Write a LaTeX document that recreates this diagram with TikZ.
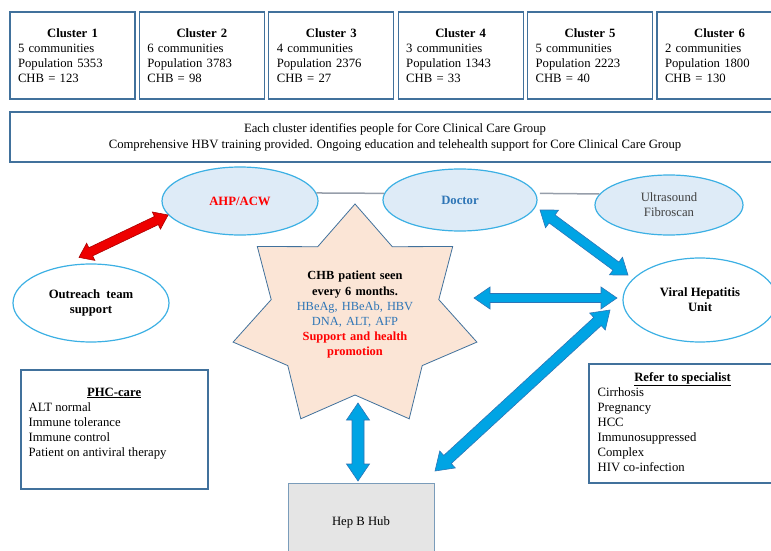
\documentclass[tikz,border=0pt]{standalone}
\usepackage{fontspec}
\setmainfont{Liberation Serif}
\usetikzlibrary{calc,shapes.geometric}
\definecolor{boxblue}{RGB}{65,113,156}
\definecolor{ellline}{RGB}{60,176,228}
\definecolor{ellfill}{RGB}{222,235,247}
\definecolor{txtblue}{RGB}{46,117,182}
\definecolor{arrblue}{RGB}{0,164,228}
\definecolor{arrblueline}{RGB}{46,117,182}
\definecolor{starfill}{RGB}{251,229,214}
\definecolor{hubfill}{RGB}{229,229,229}
\definecolor{linkgray}{RGB}{150,158,170}
\newcommand\dblarrow[6]{%
  \coordinate (da1) at ($(#1)!#3!(#2)$);
  \coordinate (da2) at ($(#2)!#3!(#1)$);
  \draw[#6] (#1) -- ($(da1)!#4!90:(#2)$) -- ($(da1)!#5!90:(#2)$)
    -- ($(da2)!#5!-90:(#1)$) -- ($(da2)!#4!-90:(#1)$) -- (#2)
    -- ($(da2)!#4!90:(#1)$) -- ($(da2)!#5!90:(#1)$)
    -- ($(da1)!#5!-90:(#2)$) -- ($(da1)!#4!-90:(#2)$) -- cycle;}
\newcommand\clusterbox[6]{%
  \node[clusterbox] (#1) at (#2,55.5)
    {\makebox[109pt]{\textbf{Cluster #3}}\\#4 communities\\Population #5\\CHB = #6};}
\begin{document}
\begin{tikzpicture}[x=1pt,y=-1pt,
  every node/.style={font=\fontsize{12.7}{15}\selectfont},
  clusterbox/.style={draw=boxblue, line width=1.3pt, minimum width=125pt,
    minimum height=87pt, text width=109pt, inner xsep=8pt, align=left},
  plainbox/.style={draw=boxblue, line width=1.2pt},
  blueell/.style={ellipse, draw=ellline, line width=1.2pt, fill=ellfill, inner sep=0pt},
  whiteell/.style={ellipse, draw=ellline, line width=1.2pt, fill=white, inner sep=0pt},
  link/.style={draw=linkgray, line width=1.5pt},
  bluearrow/.style={fill=arrblue, draw=arrblueline, line width=0.6pt},
  redarrow/.style={fill={rgb,255:red,238;green,0;blue,0}, draw={rgb,255:red,170;green,0;blue,0}, line width=0.6pt},
  listtext/.style={anchor=north west, inner sep=0pt, align=left}]
\useasboundingbox (0,0) rectangle (771,551);

% clusters
\clusterbox{c1}{72.5}{1}{5}{5353}{123}
\clusterbox{c2}{201.9}{2}{6}{3783}{98}
\clusterbox{c3}{331.3}{3}{4}{2376}{27}
\clusterbox{c4}{460.7}{4}{3}{1343}{33}
\clusterbox{c5}{590.1}{5}{5}{2223}{40}
\clusterbox{c6}{719.5}{6}{2}{1800}{130}

% wide box
\node[plainbox, minimum width=770pt, minimum height=50pt, align=center,
  font=\fontsize{12.7}{16}\selectfont] (core) at (395,137)
  {Each cluster identifies people for Core Clinical Care Group\\
   Comprehensive HBV training provided. Ongoing education and telehealth support for Core Clinical Care Group};

% ellipses
\node[blueell, minimum width=156pt, minimum height=68pt] (ahp) at (240,201)
  {\textcolor{red}{\textbf{AHP/ACW}}};
\node[blueell, minimum width=154pt, minimum height=62pt] (doctor) at (460,200)
  {\textcolor{txtblue}{\textbf{Doctor}}};
\node[blueell, minimum width=148pt, minimum height=60pt, align=center,
  text={rgb,255:red,64;green,64;blue,64}] (us) at (669,205)
  {Ultrasound\\Fibroscan};
\node[whiteell, minimum width=154pt, minimum height=84pt, align=center] (vhu) at (700,300)
  {\textbf{Viral Hepatitis}\\\textbf{Unit}};
\node[whiteell, minimum width=156pt, minimum height=78pt, align=center] (outreach) at (91,303)
  {\textbf{Outreach\ \ team}\\\textbf{support}};

% thin links
\draw[link] (ahp.6) -- (doctor.175);
\draw[link] ($(doctor.5)+(4,0)$) -- (us.171);

% star
\filldraw[fill=starfill, draw=boxblue, line width=0.8pt]
  (355,204) -- (392.3,246.7) -- (452.7,246.5) -- (438.8,299.6) -- (476.9,342.1)
  -- (422.2,365.6) -- (409.2,418.8) -- (355,395) -- (300.8,418.8) -- (287.8,365.6)
  -- (233.1,342.1) -- (271.2,299.6) -- (257.3,246.5) -- (317.7,246.7) -- cycle;
\node[align=center, text width=140pt, font=\fontsize{12.4}{15.2}\selectfont] (star) at (355,315)
  {\textbf{CHB patient seen}\\\textbf{every 6 months.}\\
   \textcolor{txtblue}{HBeAg, HBeAb, HBV}\\\textcolor{txtblue}{DNA, ALT, AFP}\\
   \textcolor{red}{\textbf{Support and health}}\\\textcolor{red}{\textbf{promotion}}};

% PHC box
\node[plainbox, minimum width=187pt, minimum height=119pt] (phc) at (114.5,429.5) {};
\node[listtext] (phctext) at ($(phc.north west)+(8,18)$)
  {\makebox[171pt]{\underline{\textbf{PHC-care}}}\\ALT normal\\Immune tolerance\\Immune control\\Patient on antiviral therapy};

% Refer box
\node[plainbox, minimum width=188pt, minimum height=119pt] (refer) at (683,423.5) {};
\node[listtext] (refertext) at ($(refer.north west)+(9,9)$)
  {\makebox[170pt]{\underline{\textbf{Refer to specialist}}}\\Cirrhosis\\Pregnancy\\HCC\\Immunosuppressed\\Complex\\HIV co-infection};

% Hub
\node[draw=boxblue!70, line width=1pt, fill=hubfill, minimum width=146pt, minimum height=78pt] (hub) at (361,522) {Hep B Hub};

% arrow end points
\coordinate (ra) at ($(outreach.north)+(-12,-6)$);
\coordinate (rb) at (ahp.191);
\coordinate (dva) at (540,210);
\coordinate (dvb) at (628,275);
\coordinate (sva) at (474,298);
\coordinate (svb) at (617,298);
\coordinate (vha) at (610,310);
\coordinate (vhb) at (435,471);
\coordinate (sha) at (358,403);
\coordinate (shb) at (358,481);

\dblarrow{ra}{rb}{13pt}{9.5pt}{4.5pt}{redarrow}
\dblarrow{dva}{dvb}{15pt}{11pt}{5pt}{bluearrow}
\dblarrow{sva}{svb}{16pt}{11pt}{4.5pt}{bluearrow}
\dblarrow{vha}{vhb}{17pt}{11.5pt}{5.5pt}{bluearrow}
\dblarrow{sha}{shb}{17pt}{11.5pt}{6pt}{bluearrow}
\end{tikzpicture}
\end{document}
